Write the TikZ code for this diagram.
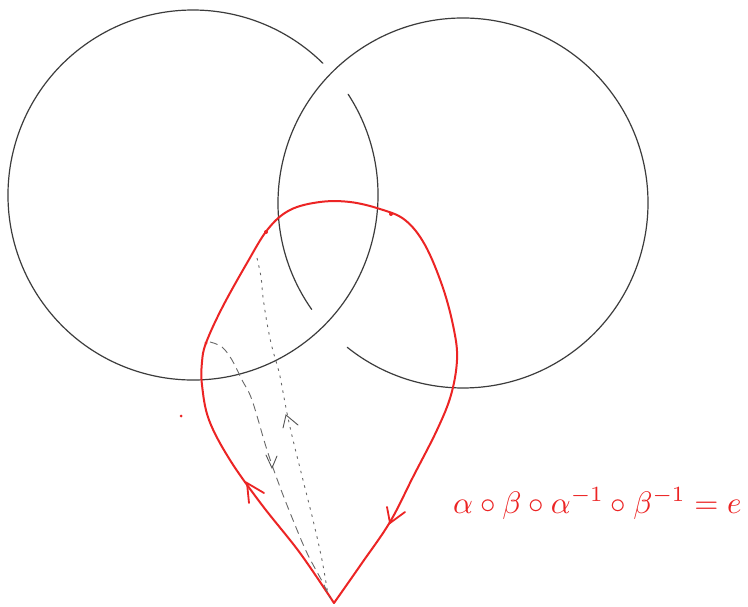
\documentclass[tikz,border=0pt]{standalone}
\usepackage{graphicx}
\usetikzlibrary{arrows.meta}
\definecolor{knotgray}{RGB}{60,60,60}
\definecolor{loopred}{RGB}{236,36,36}
\definecolor{dashgray}{RGB}{105,105,105}
\tikzset{
  knot/.style={draw=knotgray, line width=1.2pt, line cap=round},
  redloop/.style={draw=loopred, line width=2pt, line join=round, line cap=round},
  redbarb/.style={draw=loopred, line width=1.8pt, line join=miter, line cap=round},
  pathA/.style={draw=dashgray, line width=0.9pt, dash pattern=on 8pt off 5pt},
  pathB/.style={draw=dashgray, line width=0.9pt, dash pattern=on 2.5pt off 5pt},
  graybarb/.style={draw=dashgray!80!black, line width=0.9pt, line cap=round},
  vertexdot/.style={fill=loopred},
}
\begin{document}
\begin{tikzpicture}[x=1pt,y=-1pt]
\useasboundingbox (0,0) rectangle (748,607);
\fill[white] (0,0) rectangle (748,607);

% two linked circles (Hopf link)
\draw[knot] (193,195) ++(-33:185) arc[start angle=-33, end angle=314.6, radius=185];
\draw[knot] (463,203) ++(144.9:185) arc[start angle=144.9, end angle=488.7, radius=185];

% base point
\coordinate (base) at (334,603);

% red loop
\draw[redloop] plot[smooth, tension=0.6] coordinates {
  (334,603) (300,553) (262,505) (230,460) (209,420) (202,385) (202,362)
  (206,343) (222,308) (247,263) (268,229) (290,210) (320,202) (350,202)
  (380,209) (405,220) (425,245) (443,288) (454,330) (457,360) (451,395)
  (437,430) (413,477) (390,522) (362,563) (334,603)};

% small vertex marks on the red loop
\fill[vertexdot] (266,232) circle[radius=2];
\fill[vertexdot] (391,214) circle[radius=2];
\fill[vertexdot] (206,343) circle[radius=1.6];
\fill[vertexdot] (181,416) circle[radius=1.5];

% arrowheads on the red loop
\draw[redbarb] (249,503) -- (247,483) -- (264,493);
\draw[redbarb] (387,507) -- (390,523) -- (405,512);

% dashed paths from the base point
\draw[pathA] plot[smooth, tension=0.6] coordinates {
  (210,342) (222,347) (232,360) (242,380) (252,400) (267,450) (280,487)
  (293,520) (307,553) (323,583) (330,598)};
\draw[pathB] plot[smooth, tension=0.6] coordinates {
  (257,258) (261,277) (263,297) (267,323) (272,347) (279,372) (283,392)
  (287,413) (293,440) (303,480) (313,520) (322,560) (328,595)};

% small arrowheads on dashed paths
\draw[graybarb] (266,455) -- (272,468) -- (277,456);
\draw[graybarb] (283,428) -- (286,415) -- (298,425);

% formula
\node[text=loopred, anchor=base west, inner sep=0pt] (formula) at (453,513)
  {\scalebox{3.1}{$\alpha\circ\beta\circ\alpha^{-1}\circ\beta^{-1}=e$}};
\end{tikzpicture}
\end{document}
